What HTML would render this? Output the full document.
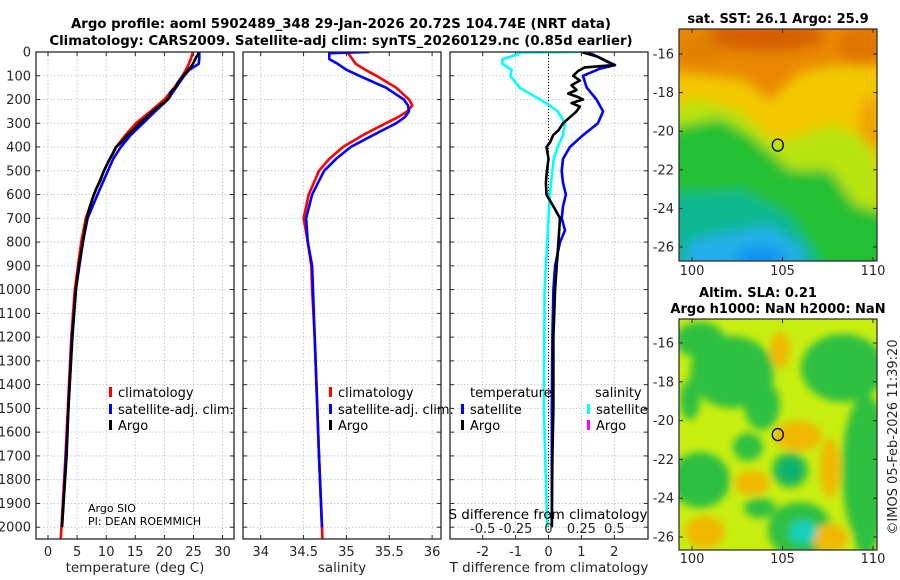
<!DOCTYPE html>
<html><head><meta charset="utf-8"><style>
html,body{margin:0;padding:0;background:#fff;}
svg{display:block;font-family:"DejaVu Sans","Liberation Sans",sans-serif;}
</style></head><body>
<svg id="fig" width="900" height="580" viewBox="0 0 900 580" xmlns="http://www.w3.org/2000/svg">
<defs>
<filter id="blur" x="-20%" y="-20%" width="140%" height="140%"><feGaussianBlur stdDeviation="6"/></filter>
<filter id="blur2" x="-20%" y="-20%" width="140%" height="140%"><feGaussianBlur stdDeviation="4"/></filter>
<clipPath id="clip1"><rect x="679" y="29" width="198" height="232"/></clipPath>
<clipPath id="clip2"><rect x="679" y="319" width="198" height="231"/></clipPath>
<clipPath id="cp1"><rect x="36" y="52" width="198" height="487"/></clipPath>
<clipPath id="cp2"><rect x="243" y="52" width="198" height="487"/></clipPath>
<clipPath id="cp3"><rect x="450" y="52" width="198" height="487"/></clipPath>
</defs>
<g font-weight="bold" font-size="13.3" text-anchor="middle" fill="#000">
<text x="341" y="28">Argo profile: aoml 5902489_348 29-Jan-2026 20.72S 104.74E (NRT data)</text>
<text x="341" y="45">Climatology: CARS2009. Satellite-adj clim: synTS_20260129.nc (0.85d earlier)</text>
</g>
<g id="maps"></g>
<g id="panels"></g>
</svg>
<script>
// ---------- data ----------
const tempDepths = [0,25,50,75,100,150,200,250,300,350,400,450,500,600,700,800,1000,1200,1500,1700,2000,2050];
const tempClim   = [24.9,24.6,24.2,23.7,23.1,21.7,20.0,17.6,15.1,13.3,11.7,10.6,9.6,7.9,6.5,5.7,4.6,4.0,3.4,3.0,2.3,2.2];
const tempSat    = [26.0,26.0,25.9,24.3,23.4,22.0,20.6,18.4,16.3,14.2,12.5,11.2,10.3,8.5,6.8,6.0,4.8,4.1,3.5,3.1,2.4,null];
const argoDepths = [0,10,20,40,55,70,90,110,130,150,170,190,210,230,250,270,290,310,330,350,380,400,430,460,500,540,580,620,660,700,750,800,900,1000,1200,1500,1700,2000];
const tempArgo   = [25.9,25.8,25.5,25.1,24.8,24.3,23.6,22.9,22.3,21.9,21.0,20.9,20.1,19.0,18.0,17.1,16.2,15.3,14.6,13.6,12.6,11.7,11.1,10.4,9.6,9.0,8.2,7.6,7.1,6.7,6.3,6.0,5.3,4.8,4.2,3.5,3.2,2.4];
const salDepths  = [0,5,30,50,75,100,150,200,225,250,275,300,350,400,450,500,600,700,800,900,1000,1200,1500,1700,2000,2050];
const salClim    = [35.02,35.02,35.07,35.11,35.22,35.35,35.58,35.73,35.77,35.71,35.6,35.46,35.19,34.96,34.8,34.68,34.56,34.5,34.55,34.59,34.6,34.63,34.66,34.68,34.715,34.72];
const salSat     = [35.27,34.8,34.8,34.9,35.0,35.15,35.46,35.67,35.72,35.73,35.68,35.58,35.31,35.05,34.88,34.74,34.6,34.53,34.55,34.6,34.61,34.63,34.66,34.68,34.715,null];
const dDepths    = [0,10,40,55,70,100,150,200,250,300,350,400,450,500,550,600,650,700,750,800,900,1000,1200,1500,1700,2000];
const dTempSat   = [1.1,1.35,1.77,2.02,1.57,1.05,1.16,1.46,1.66,1.5,1.05,0.65,0.44,0.4,0.44,0.53,0.44,0.4,0.5,0.35,0.2,0.15,0.12,0.1,0.1,0.1];
const dArgoDepths= [0,20,40,55,65,80,100,120,140,160,175,190,200,215,230,250,275,300,330,350,380,400,450,500,550,600,650,700,800,1000,1200,1500,1700,2000];
const dTempArgo  = [1.0,1.5,1.8,2.0,1.1,0.9,0.75,0.95,0.7,0.85,0.6,0.9,1.05,0.7,0.95,0.85,0.65,0.44,0.3,0.14,0.05,-0.06,0.0,-0.05,-0.08,-0.06,0.15,0.35,0.3,0.2,0.15,0.15,0.12,0.1];
const dSalDepths = [0,2,10,30,50,75,100,150,200,225,250,300,350,400,450,500,600,700,1000,1500,2000];
const dSalSat    = [0.24,-0.22,-0.23,-0.35,-0.35,-0.28,-0.29,-0.22,-0.065,0.01,0.07,0.125,0.11,0.07,0.04,0.03,0.01,0.0,-0.03,-0.035,-0.01];
const depthTicks = [0,100,200,300,400,500,600,700,800,900,1000,1100,1200,1300,1400,1500,1600,1700,1800,1900,2000];
const tTicks = [0,5,10,15,20,25,30];
const sTicks = [34,34.5,35,35.5,36];
const sTickLabels = ["34","34.5","35","35.5","36"];
const dTTicks = [-2,-1,0,1,2];
const dSTicks = [-0.5,-0.25,0,0.25,0.5];
const dSTickLabels = ["-0.5","-0.25","0","0.25","0.5"];
const latTicks = [-16,-18,-20,-22,-24,-26];
const lonTicks = [100,105,110];
const argoLon = 104.74, argoLat = -20.72;

// ---------- scales ----------
const Y0=52, YB=539;
const yD = d => 52 + d*0.2376;
const xT = t => 48 + t*5.82;
const xS = s => 260.7 + (s-34)*85.7;
const xDT = v => 548.5 + v*32.9;
const xDS = v => 548.5 + v*131.6;
const lonX = l => 692 + (l-100)*18.1;
const latY1 = l => 54 + (-16-l)*19.3;
const latY2 = l => 343 + (-16-l)*19.4;

const NS="http://www.w3.org/2000/svg";
function mk(tag, attrs, parent){const e=document.createElementNS(NS,tag);for(const k in attrs)e.setAttribute(k,attrs[k]);parent.appendChild(e);return e;}
const panels=document.getElementById('panels');
const maps=document.getElementById('maps');

function pathFrom(depths, vals, xf){
  let d='';let started=false;
  for(let i=0;i<depths.length;i++){ if(vals[i]===null||vals[i]===undefined) continue;
    d+=(started?'L':'M')+xf(vals[i]).toFixed(1)+','+yD(depths[i]).toFixed(1); started=true;}
  return d;
}

function panel(id, x0, x1, xTickVals, xTickLabels, xf, xlabel){
  const g=mk('g',{},panels);
  
  
  depthTicks.forEach(d=>{const l=mk('line',{x1:x0,x2:x1,y1:yD(d),y2:yD(d),stroke:'#b8bfd8','stroke-width':0.8,'stroke-dasharray':'1.5,2'},g);
    });
  xTickVals.forEach(v=>{const l=mk('line',{x1:xf(v),x2:xf(v),y1:Y0,y2:YB,stroke:'#b8bfd8','stroke-width':0.8,'stroke-dasharray':'1.5,2'},g);
    });
  depthTicks.forEach(d=>{mk('line',{x1:x0,x2:x0+4,y1:yD(d),y2:yD(d),stroke:'#262626','stroke-width':1},g);
    mk('line',{x1:x1-4,x2:x1,y1:yD(d),y2:yD(d),stroke:'#262626','stroke-width':1},g);});
  xTickVals.forEach((v,i)=>{mk('line',{x1:xf(v),x2:xf(v),y1:YB-4,y2:YB,stroke:'#262626','stroke-width':1},g);
    mk('line',{x1:xf(v),x2:xf(v),y1:Y0,y2:Y0+4,stroke:'#262626','stroke-width':1},g);
    const t=mk('text',{x:xf(v),y:556,'text-anchor':'middle','font-size':13,fill:'#262626'},g);t.textContent=xTickLabels[i];
    });
  const xl=mk('text',{x:(x0+x1)/2,y:572,'text-anchor':'middle','font-size':13.5,fill:'#262626'},g);xl.textContent=xlabel;
  
  return g;
}
function frame(g,x0,x1){const r=mk('rect',{x:x0,y:Y0,width:x1-x0,height:YB-Y0,fill:'none',stroke:'#262626','stroke-width':1.3},g);
  }
function series(g,clip,depths,vals,xf,color,name,w){
  const p=mk('path',{d:pathFrom(depths,vals,xf),fill:'none',stroke:color,'stroke-width':w||2.6,'stroke-linejoin':'round','clip-path':'url(#'+clip+')'},g);
  }
function txt(g,x,y,s,name,attrs){const t=mk('text',Object.assign({x:x,y:y,'font-size':13,fill:'#000'},attrs||{}),g);t.textContent=s;
  return t;}
function legMark(g,x,y,color){mk('rect',{x:x,y:y-10,width:3,height:10,fill:color},g);}

depthTicks.forEach(d=>{const t=mk('text',{x:31,y:yD(d)+4.5,'text-anchor':'end','font-size':13,fill:'#262626'},panels);t.textContent=String(d);
  });

const g1=panel('temperature-panel',36,234,tTicks,tTicks.map(String),xT,'temperature (deg C)');
series(g1,'cp1',tempDepths,tempClim,xT,'#ff0000','temperature-climatology-line');
series(g1,'cp1',tempDepths,tempSat,xT,'#0000ff','temperature-satellite-line');
series(g1,'cp1',argoDepths,tempArgo,xT,'#000000','temperature-argo-line');
frame(g1,36,234);
legMark(g1,109,397,'#ff0000');txt(g1,118,397,'climatology','legend-entry-climatology');
legMark(g1,109,414,'#0000ff');txt(g1,118,414,'satellite-adj. clim.','legend-entry-satellite');
legMark(g1,109,430,'#000');txt(g1,118,430,'Argo','legend-entry-argo');
txt(g1,88,512,'Argo SIO','pi-institution',{'font-size':11});
txt(g1,88,525,'PI: DEAN ROEMMICH','pi-name',{'font-size':11});

const g2=panel('salinity-panel',243,441,sTicks,sTickLabels,xS,'salinity');
series(g2,'cp2',salDepths,salClim,xS,'#ff0000','salinity-climatology-line');
series(g2,'cp2',salDepths,salSat,xS,'#0000ff','salinity-satellite-line');
frame(g2,243,441);
legMark(g2,329,397,'#ff0000');txt(g2,338,397,'climatology','legend-entry-climatology');
legMark(g2,329,414,'#0000ff');txt(g2,338,414,'satellite-adj. clim.','legend-entry-satellite');
legMark(g2,329,430,'#000');txt(g2,338,430,'Argo','legend-entry-argo');

const g3=panel('difference-panel',450,648,dTTicks,dTTicks.map(String),xDT,'T difference from climatology');
const zl=mk('line',{x1:xDT(0),x2:xDT(0),y1:Y0,y2:YB,stroke:'#000','stroke-width':1,'stroke-dasharray':'1,2'},g3);

series(g3,'cp3',dSalDepths,dSalSat,xDS,'#00ffff','salinity-diff-satellite-line');
series(g3,'cp3',dDepths,dTempSat,xDT,'#0000ff','temperature-diff-satellite-line');
series(g3,'cp3',dArgoDepths,dTempArgo,xDT,'#000000','temperature-diff-argo-line');
frame(g3,450,648);
txt(g3,470,397,'temperature','legend-title-temperature');
legMark(g3,461,414,'#0000ff');txt(g3,470,414,'satellite','legend-entry-t-satellite');
legMark(g3,461,430,'#000');txt(g3,470,430,'Argo','legend-entry-t-argo');
txt(g3,595,397,'salinity','legend-title-salinity');
legMark(g3,587,414,'#00ffff');txt(g3,596,414,'satellite','legend-entry-s-satellite');
legMark(g3,587,430,'#ff00ff');txt(g3,596,430,'Argo','legend-entry-s-argo');
txt(g3,548,519,'S difference from climatology','s-axis-title',{'text-anchor':'middle','font-size':13.5});
dSTicks.forEach((v,i)=>{txt(g3,xDS(v),533,dSTickLabels[i],'s-tick-label',{'text-anchor':'middle','font-size':13,fill:'#262626'});});

// ---------- maps ----------
function mapAxes(g,yTop,yBot,latY,labelY){
  const fr=mk('rect',{x:679,y:yTop,width:198,height:yBot-yTop,fill:'none',stroke:'#262626','stroke-width':1.2},g);
  
  latTicks.forEach(l=>{const y=latY(l);mk('line',{x1:679,x2:683,y1:y,y2:y,stroke:'#262626'},g);mk('line',{x1:873,x2:877,y1:y,y2:y,stroke:'#262626'},g);
    txt(g,674,y+4.5,String(l),'lat-tick-label',{'text-anchor':'end',fill:'#262626'});});
  lonTicks.forEach(l=>{const x=lonX(l);mk('line',{x1:x,x2:x,y1:yBot-4,y2:yBot,stroke:'#262626'},g);mk('line',{x1:x,x2:x,y1:yTop,y2:yTop+4,stroke:'#262626'},g);
    txt(g,x,labelY,String(l),'lon-tick-label',{'text-anchor':'middle',fill:'#262626'});});
}
function blob(g,tag,attrs){mk(tag,attrs,g);}
const m1=mk('g',{},maps);
const c1=mk('g',{'clip-path':'url(#clip1)'},m1);
mk('rect',{x:679,y:29,width:198,height:232,fill:'#f2c800'},c1);
const b1=mk('g',{filter:'url(#blur)'},c1);
blob(b1,'polygon',{points:'660,10 890,10 890,66 840,64 800,72 770,100 745,80 700,74 660,72',fill:'#ea8800'});
blob(b1,'ellipse',{cx:765,cy:36,rx:60,ry:16,fill:'#d66000'});
blob(b1,'ellipse',{cx:860,cy:45,rx:22,ry:20,fill:'#e07400'});
blob(b1,'ellipse',{cx:700,cy:50,rx:20,ry:14,fill:'#e08000'});
blob(b1,'ellipse',{cx:870,cy:130,rx:10,ry:35,fill:'#f0a000'});
blob(b1,'polygon',{points:'660,110 700,100 740,112 770,140 790,140 830,125 860,135 880,160 880,230 840,200 800,180 760,170 660,170',fill:'#b8e410'});
blob(b1,'polygon',{points:'660,130 720,118 750,135 790,170 830,170 855,205 890,215 890,280 660,280',fill:'#20c030'});
blob(b1,'polygon',{points:'660,195 740,190 790,215 810,245 830,280 660,280',fill:'#10b890'});
blob(b1,'polygon',{points:'690,240 770,225 805,250 800,280 680,280',fill:'#20aee8'});
blob(b1,'ellipse',{cx:760,cy:258,rx:25,ry:10,fill:'#1090f0'});
mapAxes(m1,29,261,latY1,275);
const o1=mk('ellipse',{cx:lonX(argoLon),cy:latY1(argoLat),rx:5.5,ry:6,fill:'none',stroke:'#000','stroke-width':1.3},m1);

txt(m1,778,23,'sat. SST: 26.1 Argo: 25.9','sst-map-title',{'text-anchor':'middle','font-weight':'bold','font-size':13});

const m2=mk('g',{},maps);
const c2=mk('g',{'clip-path':'url(#clip2)'},m2);
mk('rect',{x:679,y:319,width:198,height:231,fill:'#c8ee10'},c2);
const b2=mk('g',{filter:'url(#blur2)'},c2);
[[732,372,42,36],[700,340,25,18],[762,405,18,25],[843,368,42,34],[866,470,24,75],[700,480,30,28],[790,470,18,18],[748,447,15,14],[800,530,32,28],[760,508,16,10],[866,535,12,20],[690,400,10,20]].forEach(a=>blob(b2,'ellipse',{cx:a[0],cy:a[1],rx:a[2],ry:a[3],fill:'#2ec040'}));
[[798,436,24,15],[780,350,10,18],[705,532,20,16],[830,538,18,14],[752,483,18,12],[830,468,10,30]].forEach(a=>blob(b2,'ellipse',{cx:a[0],cy:a[1],rx:a[2],ry:a[3],fill:'#f0b800'}));
blob(b2,'ellipse',{cx:790,cy:470,rx:12,ry:12,fill:'#10b070'});
blob(b2,'ellipse',{cx:803,cy:532,rx:14,ry:12,fill:'#18d0b8'});
mapAxes(m2,319,550,latY2,563);
const o2=mk('ellipse',{cx:lonX(argoLon),cy:latY2(argoLat),rx:5.5,ry:6,fill:'none',stroke:'#000','stroke-width':1.3},m2);

txt(m2,758,297,'Altim. SLA: 0.21','sla-map-title',{'text-anchor':'middle','font-weight':'bold','font-size':13});
txt(m2,778,313,'Argo h1000: NaN h2000: NaN','sla-map-subtitle',{'text-anchor':'middle','font-weight':'bold','font-size':13});
txt(maps,0,0,'©IMOS 05-Feb-2026 11:39:20','copyright-timestamp',{'text-anchor':'middle','font-size':13,fill:'#262626',transform:'translate(897,437) rotate(-90)'});
</script>
</body></html>
